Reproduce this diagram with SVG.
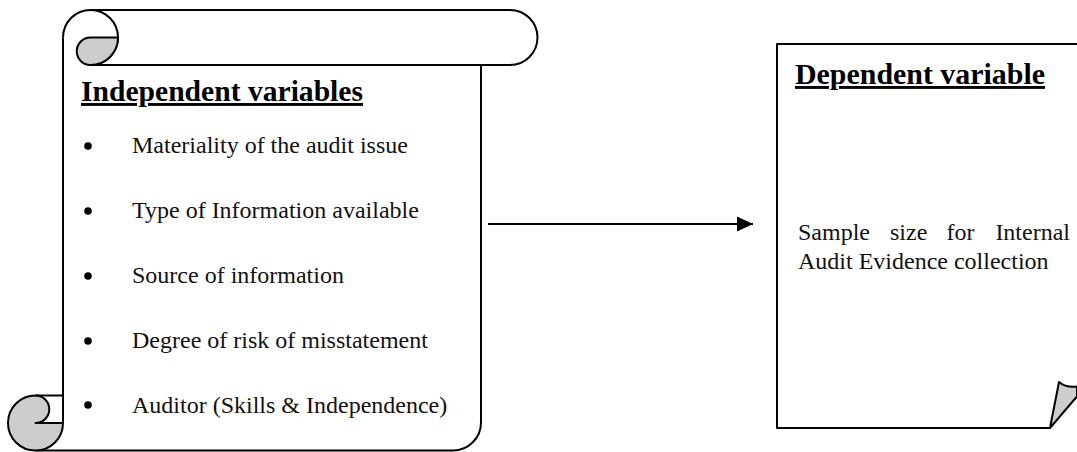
<svg xmlns="http://www.w3.org/2000/svg" width="1077" height="452" viewBox="0 0 1077 452">
<style>
.ln{fill:none;stroke:#000;stroke-width:2;stroke-linejoin:round}
.gr{fill:#cdcdcd;stroke:#000;stroke-width:2;stroke-linejoin:round}
.tx{font-family:"Liberation Serif","Times New Roman",serif;font-size:24px;fill:#111}
.hd{font-family:"Liberation Serif","Times New Roman",serif;font-size:29px;font-weight:bold;fill:#000;text-decoration:underline}
.bl{fill:#000}
</style>
<defs>
<marker id="ah" viewBox="0 0 16 16" refX="16" refY="8" markerWidth="16" markerHeight="16" markerUnits="userSpaceOnUse" orient="auto">
<path d="M0,0.5 L16,8 L0,15.5 Z" fill="#000"/>
</marker>
</defs>
<rect width="1077" height="452" fill="#fff"/>
<g id="independent">
<path class="ln" d="M90.5,10 H510 A27.5,27.5 0 0 1 510,65 H90.5"/>
<path class="ln" d="M63,37.5 A27.5,27.5 0 0 1 118,37.5 A27.5,27.5 0 0 1 90.5,65"/>
<path class="gr" d="M90.5,37.5 H118 A27.5,27.5 0 0 1 90.5,65 A13.75,13.75 0 0 1 90.5,37.5 Z"/>
<path class="ln" d="M63,37.5 V423"/>
<path class="ln" d="M481,65 V422.5 A28,28 0 0 1 453,450.5 H35.5"/>
<path class="gr" d="M35.5,423 A13.75,13.75 0 0 0 35.5,395.5 A27.5,27.5 0 1 0 63,423 Z"/>
<path class="ln" d="M35.5,395.5 H63"/>
<text class="hd" x="81" y="101" textLength="282" lengthAdjust="spacingAndGlyphs">Independent variables</text>
<circle class="bl" cx="88" cy="146" r="3.8"/>
<text class="tx" x="132" y="153">Materiality of the audit issue</text>
<circle class="bl" cx="88" cy="211" r="3.8"/>
<text class="tx" x="132" y="218">Type of Information available</text>
<circle class="bl" cx="88" cy="276" r="3.8"/>
<text class="tx" x="132" y="283">Source of information</text>
<circle class="bl" cx="88" cy="341" r="3.8"/>
<text class="tx" x="132" y="348">Degree of risk of misstatement</text>
<circle class="bl" cx="88" cy="405" r="3.8"/>
<text class="tx" x="132" y="413">Auditor (Skills &amp; Independence)</text>
</g>
<g id="dependent">
<path class="ln" d="M1077,44 H777 V428 H1050"/>
<path class="gr" d="M1050,428 L1059,382 Q1066,388 1077,386.5 L1077,396.5 Z"/>
<text class="hd" x="795" y="84" textLength="250" lengthAdjust="spacingAndGlyphs">Dependent variable</text>
<text class="tx" x="798" y="240">Sample</text>
<text class="tx" x="890" y="240">size</text>
<text class="tx" x="946.5" y="240">for</text>
<text class="tx" x="1070" y="240" text-anchor="end">Internal</text>
<text class="tx" x="798" y="269">Audit Evidence collection</text>
</g>
<g id="connectors">
<line x1="488" y1="224" x2="753" y2="224" stroke="#000" stroke-width="2" marker-end="url(#ah)"/>
</g>
</svg>
